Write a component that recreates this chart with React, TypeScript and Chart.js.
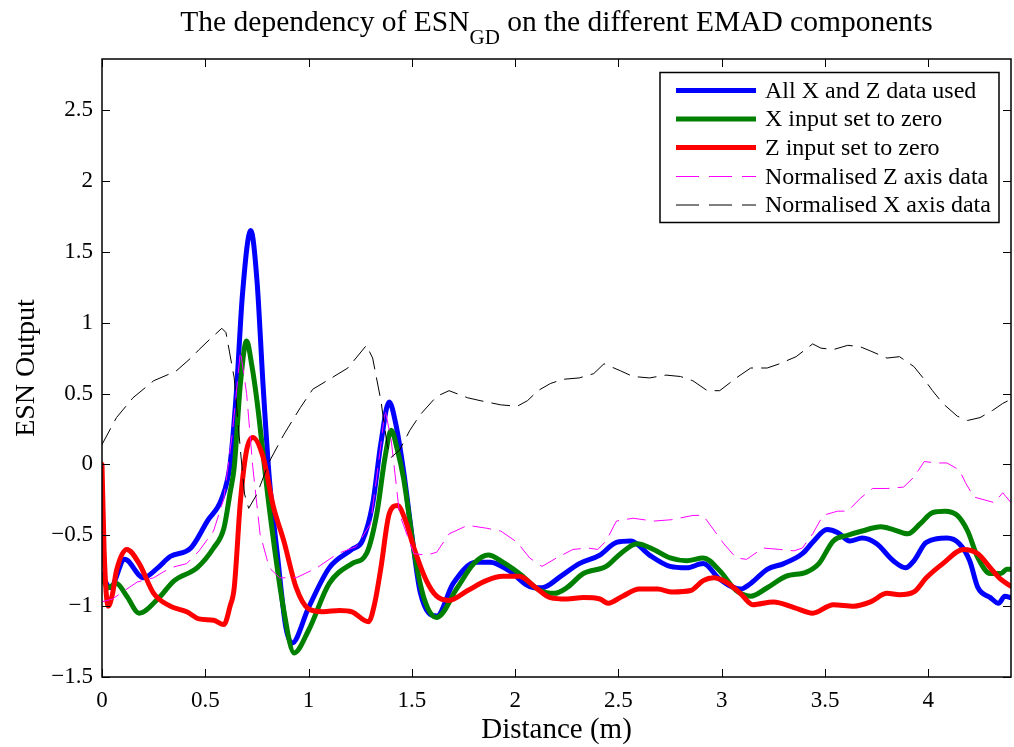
import { useEffect, useRef } from 'react';
import { Chart, registerables } from 'chart.js';

Chart.register(...registerables);

const xTickValues = [0, 0.5, 1, 1.5, 2, 2.5, 3, 3.5, 4];
const yTickValues = [-1.5, -1, -0.5, 0, 0.5, 1, 1.5, 2, 2.5];

const titleMain = 'The dependency of ESN';
const titleSub = 'GD';
const titleRest = ' on the different EMAD components';
const xAxisTitle = 'Distance (m)';
const yAxisTitle = 'ESN Output';

const legendLabels = [
  'All X and Z data used',
  'X input set to zero',
  'Z input set to zero',
  'Normalised Z axis data',
  'Normalised X axis data',
];

const allX = [0, 0.04, 0.11, 0.2, 0.27, 0.33, 0.43, 0.51, 0.58, 0.62, 0.65, 0.68, 0.72, 0.75, 0.78, 0.81, 0.85, 0.89, 0.92, 1.0, 1.1, 1.21, 1.26, 1.31, 1.35, 1.39, 1.42, 1.46, 1.5, 1.54, 1.62, 1.7, 1.81, 1.88, 1.97, 2.09, 2.13, 2.22, 2.31, 2.41, 2.49, 2.56, 2.65, 2.75, 2.83, 2.91, 2.99, 3.09, 3.14, 3.22, 3.3, 3.39, 3.44, 3.51, 3.56, 3.62, 3.68, 3.75, 3.83, 3.89, 3.93, 3.99, 4.09, 4.15, 4.2, 4.24, 4.3, 4.34, 4.37, 4.4];
const allY = [-0.78, -0.87, -0.67, -0.8, -0.73, -0.65, -0.59, -0.4, -0.24, 0.0, 0.5, 1.2, 1.65, 1.3, 0.55, -0.1, -0.65, -1.15, -1.26, -1.01, -0.73, -0.6, -0.54, -0.28, 0.15, 0.44, 0.3, -0.05, -0.5, -0.9, -1.07, -0.84, -0.69, -0.69, -0.75, -0.87, -0.87, -0.79, -0.7, -0.64, -0.55, -0.54, -0.64, -0.72, -0.73, -0.7, -0.81, -0.88, -0.84, -0.74, -0.7, -0.63, -0.55, -0.46, -0.48, -0.54, -0.52, -0.56, -0.68, -0.73, -0.68, -0.55, -0.52, -0.56, -0.68, -0.87, -0.94, -0.98, -0.93, -0.94];

const xZeroX = [0, 0.03, 0.07, 0.12, 0.18, 0.27, 0.35, 0.46, 0.54, 0.59, 0.62, 0.64, 0.67, 0.7, 0.725, 0.75, 0.81, 0.88, 0.93, 1.0, 1.1, 1.21, 1.28, 1.33, 1.37, 1.4, 1.43, 1.46, 1.49, 1.51, 1.56, 1.62, 1.72, 1.8, 1.87, 1.94, 2.02, 2.12, 2.19, 2.25, 2.33, 2.44, 2.51, 2.59, 2.67, 2.75, 2.83, 2.91, 2.99, 3.07, 3.14, 3.22, 3.31, 3.41, 3.47, 3.54, 3.61, 3.68, 3.77, 3.83, 3.9, 3.96, 4.02, 4.08, 4.14, 4.19, 4.24, 4.3, 4.35, 4.38, 4.4];
const xZeroY = [-0.8, -0.87, -0.84, -0.93, -1.05, -0.95, -0.82, -0.73, -0.59, -0.45, -0.2, -0.02, 0.57, 0.87, 0.7, 0.45, -0.31, -1.03, -1.33, -1.17, -0.84, -0.7, -0.63, -0.35, 0.05, 0.24, 0.1, -0.1, -0.4, -0.61, -0.95, -1.08, -0.87, -0.7, -0.64, -0.69, -0.77, -0.89, -0.91, -0.87, -0.77, -0.72, -0.63, -0.56, -0.6, -0.66, -0.68, -0.66, -0.75, -0.89, -0.93, -0.87, -0.79, -0.76, -0.7, -0.54, -0.5, -0.47, -0.44, -0.46, -0.49, -0.42, -0.34, -0.33, -0.36, -0.47, -0.66, -0.77, -0.77, -0.74, -0.74];

const zZeroX = [0, 0.01, 0.03, 0.05, 0.07, 0.12, 0.18, 0.25, 0.33, 0.41, 0.47, 0.54, 0.59, 0.62, 0.64, 0.67, 0.7, 0.73, 0.78, 0.83, 0.88, 0.94, 1.0, 1.07, 1.15, 1.21, 1.29, 1.32, 1.35, 1.39, 1.43, 1.47, 1.51, 1.57, 1.62, 1.68, 1.77, 1.86, 1.94, 2.02, 2.1, 2.17, 2.25, 2.33, 2.41, 2.45, 2.52, 2.6, 2.69, 2.76, 2.85, 2.91, 2.96, 3.02, 3.09, 3.15, 3.25, 3.35, 3.44, 3.54, 3.64, 3.72, 3.8, 3.86, 3.93, 3.99, 4.07, 4.17, 4.24, 4.3, 4.35, 4.4];
const zZeroY = [0, -0.6, -1.0, -0.92, -0.75, -0.6, -0.7, -0.91, -1.0, -1.04, -1.09, -1.1, -1.13, -1.0, -0.87, -0.26, 0.1, 0.19, 0.05, -0.3, -0.54, -0.87, -1.02, -1.04, -1.03, -1.04, -1.11, -0.98, -0.73, -0.35, -0.29, -0.4, -0.59, -0.82, -0.93, -0.96, -0.89, -0.82, -0.79, -0.79, -0.87, -0.94, -0.95, -0.94, -0.95, -0.98, -0.93, -0.88, -0.88, -0.9, -0.89, -0.82, -0.8, -0.83, -0.91, -0.99, -0.97, -1.01, -1.05, -0.99, -1.0, -0.97, -0.91, -0.92, -0.9, -0.8, -0.7, -0.6, -0.63, -0.73, -0.81, -0.86];

const normZX = [0, 0.05, 0.09, 0.17, 0.25, 0.33, 0.41, 0.47, 0.54, 0.59, 0.63, 0.67, 0.7, 0.73, 0.765, 0.81, 0.86, 0.94, 1.04, 1.14, 1.23, 1.3, 1.35, 1.37, 1.4, 1.44, 1.51, 1.57, 1.62, 1.68, 1.77, 1.86, 1.93, 2.01, 2.07, 2.13, 2.2, 2.28, 2.35, 2.4, 2.44, 2.49, 2.57, 2.67, 2.76, 2.86, 2.91, 2.94, 3.01, 3.07, 3.12, 3.2, 3.28, 3.35, 3.39, 3.44, 3.49, 3.56, 3.61, 3.67, 3.73, 3.8, 3.88, 3.93, 3.98, 4.04, 4.09, 4.15, 4.18, 4.22, 4.27, 4.32, 4.36, 4.4];
const normZY = [-0.97, -0.95, -0.91, -0.83, -0.8, -0.73, -0.7, -0.61, -0.47, -0.24, 0.21, 0.8, 0.5, -0.02, -0.49, -0.73, -0.8, -0.8, -0.73, -0.63, -0.58, -0.42, 0.14, 0.39, 0.17, -0.35, -0.63, -0.64, -0.62, -0.49, -0.43, -0.45, -0.47, -0.55, -0.66, -0.72, -0.66, -0.6, -0.59, -0.6, -0.54, -0.4, -0.38, -0.4, -0.39, -0.36, -0.36, -0.42, -0.56, -0.66, -0.67, -0.59, -0.6, -0.61, -0.59, -0.49, -0.36, -0.33, -0.33, -0.24, -0.17, -0.17, -0.16, -0.09, 0.02, 0.01, 0.01, -0.04, -0.13, -0.23, -0.25, -0.27, -0.2, -0.27];

const normXX = [0, 0.07, 0.15, 0.25, 0.33, 0.36, 0.43, 0.47, 0.52, 0.58, 0.6, 0.64, 0.67, 0.69, 0.71, 0.75, 0.81, 0.88, 0.96, 1.02, 1.1, 1.19, 1.28, 1.31, 1.35, 1.38, 1.4, 1.44, 1.49, 1.54, 1.62, 1.68, 1.77, 1.83, 1.93, 2.01, 2.06, 2.11, 2.17, 2.23, 2.31, 2.38, 2.43, 2.51, 2.57, 2.65, 2.73, 2.8, 2.86, 2.93, 2.99, 3.07, 3.14, 3.22, 3.28, 3.36, 3.44, 3.48, 3.54, 3.61, 3.67, 3.72, 3.8, 3.86, 3.93, 3.98, 4.02, 4.07, 4.14, 4.19, 4.25, 4.31, 4.36, 4.4];
const normXY = [0.14, 0.33, 0.47, 0.59, 0.64, 0.66, 0.75, 0.81, 0.88, 0.96, 0.93, 0.61, 0.1, -0.21, -0.31, -0.21, 0.02, 0.21, 0.4, 0.53, 0.6, 0.68, 0.84, 0.75, 0.45, 0.14, 0.05, 0.1, 0.24, 0.35, 0.48, 0.52, 0.47, 0.45, 0.42, 0.41, 0.45, 0.52, 0.57, 0.6, 0.61, 0.64, 0.71, 0.66, 0.62, 0.61, 0.63, 0.62, 0.59, 0.52, 0.52, 0.61, 0.68, 0.68, 0.71, 0.76, 0.85, 0.82, 0.81, 0.84, 0.83, 0.8, 0.75, 0.76, 0.69, 0.6, 0.52, 0.43, 0.34, 0.31, 0.33, 0.38, 0.43, 0.46];

const FONT = "'Liberation Serif', 'Times New Roman', serif";

const seriesStyles = [
  { color: '#0000ff', width: 5, dash: [] as number[] },
  { color: '#008000', width: 5, dash: [] as number[] },
  { color: '#ff0000', width: 5, dash: [] as number[] },
  { color: '#ff00ff', width: 1, dash: [18, 9] },
  { color: '#000000', width: 1, dash: [18, 9] },
];

function pts(xs: number[], ys: number[]) {
  return xs.map((x, i) => ({ x, y: ys[i] }));
}

function fmt(v: number) {
  return String(v).replace('-', '\u2212');
}

const decor = {
  id: 'matlabDecor',
  afterDraw(chart: any) {
    const { ctx, chartArea: a, scales } = chart;
    const sx = scales.x;
    const sy = scales.y;
    ctx.save();
    // box
    ctx.strokeStyle = '#000';
    ctx.lineWidth = 1.5;
    ctx.strokeRect(a.left, a.top, a.right - a.left, a.bottom - a.top);
    // inward ticks
    ctx.lineWidth = 1;
    const tl = 8;
    ctx.beginPath();
    xTickValues.forEach((v) => {
      const p = Math.round(sx.getPixelForValue(v)) + 0.5;
      ctx.moveTo(p, a.bottom);
      ctx.lineTo(p, a.bottom - tl);
      ctx.moveTo(p, a.top);
      ctx.lineTo(p, a.top + tl);
    });
    yTickValues.forEach((v) => {
      const p = Math.round(sy.getPixelForValue(v)) + 0.5;
      ctx.moveTo(a.left, p);
      ctx.lineTo(a.left + tl, p);
      ctx.moveTo(a.right, p);
      ctx.lineTo(a.right - tl, p);
    });
    ctx.stroke();

    // title with subscript
    ctx.fillStyle = '#000';
    ctx.textBaseline = 'alphabetic';
    ctx.textAlign = 'left';
    const mainFont = `29.5px ${FONT}`;
    const subFont = `21px ${FONT}`;
    ctx.font = mainFont;
    const w1 = ctx.measureText(titleMain).width;
    const w3 = ctx.measureText(titleRest).width;
    ctx.font = subFont;
    const w2 = ctx.measureText(titleSub).width;
    const total = w1 + w2 + w3;
    const cx = (a.left + a.right) / 2;
    let tx = cx - total / 2;
    ctx.font = mainFont;
    ctx.fillText(titleMain, tx, 31);
    tx += w1;
    ctx.font = subFont;
    ctx.fillText(titleSub, tx, 44);
    tx += w2;
    ctx.font = mainFont;
    ctx.fillText(titleRest, tx, 31);

    // axis titles
    ctx.font = `29px ${FONT}`;
    ctx.textAlign = 'center';
    ctx.fillText(xAxisTitle, cx, 738);
    ctx.save();
    ctx.translate(34, (a.top + a.bottom) / 2);
    ctx.rotate(-Math.PI / 2);
    ctx.font = `28px ${FONT}`;
    ctx.fillText(yAxisTitle, 0, 0);
    ctx.restore();

    // legend
    const lx = 660, ly = 72.5, lw = 339, lh = 150;
    ctx.fillStyle = '#fff';
    ctx.fillRect(lx, ly, lw, lh);
    ctx.strokeStyle = '#000';
    ctx.lineWidth = 1.5;
    ctx.strokeRect(lx, ly, lw, lh);
    const rows = [90.5, 119, 147.5, 176.5, 205];
    ctx.font = `24px ${FONT}`;
    ctx.textAlign = 'left';
    ctx.textBaseline = 'middle';
    legendLabels.forEach((label, i) => {
      const st = seriesStyles[i];
      const y = rows[i];
      ctx.beginPath();
      ctx.strokeStyle = st.color;
      ctx.lineWidth = st.width;
      ctx.setLineDash(st.dash.length ? [23, 10] : []);
      ctx.lineCap = 'butt';
      ctx.moveTo(676, y);
      ctx.lineTo(756, y);
      ctx.stroke();
      ctx.setLineDash([]);
      ctx.fillStyle = '#000';
      ctx.fillText(label, 765, y + 1);
    });
    ctx.restore();
  },
};

export default function App() {
  const ref = useRef<HTMLCanvasElement>(null);
  useEffect(() => {
    if (!ref.current) return;
    const seriesData = [pts(allX, allY), pts(xZeroX, xZeroY), pts(zZeroX, zZeroY), pts(normZX, normZY), pts(normXX, normXY)];
    const datasets = seriesData.map((d, i) => {
      const st = seriesStyles[i];
      const thick = st.width > 2;
      return {
        label: legendLabels[i],
        data: d,
        borderColor: st.color,
        backgroundColor: st.color,
        borderWidth: st.width,
        borderDash: st.dash,
        pointRadius: 0,
        pointHoverRadius: 0,
        fill: false,
        cubicInterpolationMode: thick ? ('monotone' as const) : ('default' as const),
        tension: thick ? 0.4 : 0,
        borderCapStyle: 'round' as const,
        borderJoinStyle: 'round' as const,
        order: 5 - i,
      };
    });
    const chart = new Chart(ref.current, {
      type: 'line',
      data: { datasets },
      options: {
        animation: false,
        responsive: false,
        events: [],
        layout: { padding: { top: 59, right: 3, left: 0, bottom: 0 } },
        plugins: { legend: { display: false }, title: { display: false }, tooltip: { enabled: false } },
        scales: {
          x: {
            type: 'linear',
            min: 0,
            max: 4.4,
            grid: { display: false, drawTicks: false },
            border: { display: false },
            afterBuildTicks: (s: any) => {
              s.ticks = xTickValues.map((v) => ({ value: v }));
            },
            afterFit: (s: any) => {
              s.height = 70;
            },
            ticks: {
              autoSkip: false,
              maxRotation: 0,
              padding: 10,
              color: '#000',
              font: { family: FONT, size: 23 },
              callback: (v: any) => fmt(Number(v)),
            },
          },
          y: {
            type: 'linear',
            min: -1.5,
            max: 2.86,
            grid: { display: false, drawTicks: false },
            border: { display: false },
            afterBuildTicks: (s: any) => {
              s.ticks = yTickValues.map((v) => ({ value: v }));
            },
            afterFit: (s: any) => {
              s.width = 102;
            },
            ticks: {
              autoSkip: false,
              padding: 9,
              color: '#000',
              font: { family: FONT, size: 23 },
              callback: (v: any) => fmt(Number(v)),
            },
          },
        },
      },
      plugins: [decor],
    });
    return () => chart.destroy();
  }, []);
  return (
    <div style={{ position: 'fixed', left: 0, top: 0, width: 1014, height: 747, background: '#fff' }}>
      <canvas ref={ref} width={1014} height={747} style={{ display: 'block' }} />
    </div>
  );
}
